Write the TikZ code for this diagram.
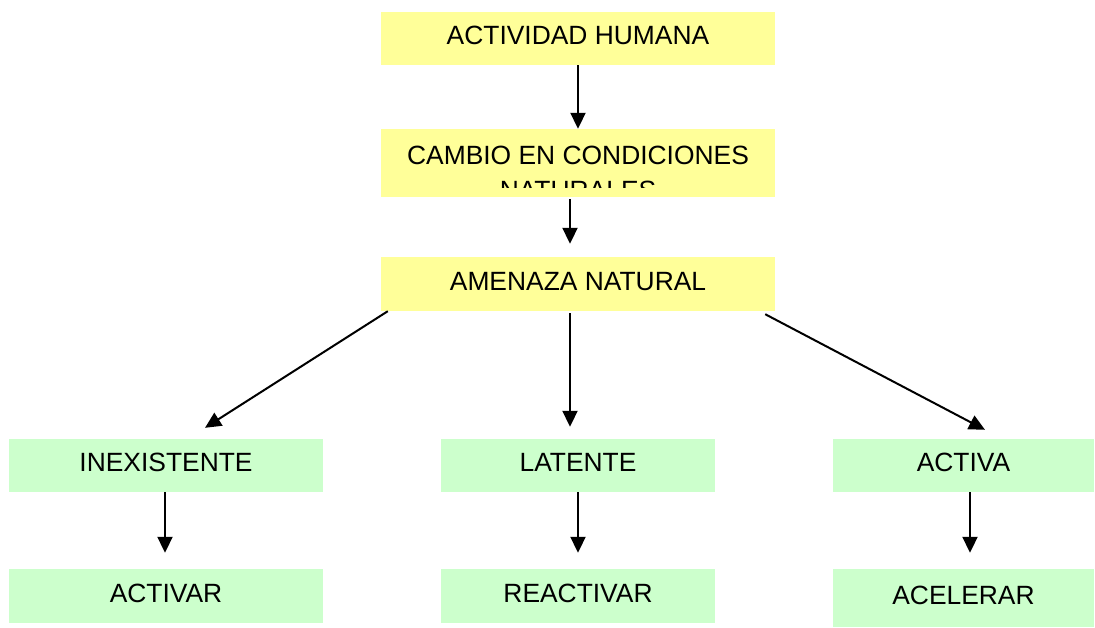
\documentclass[tikz,border=0pt]{standalone}
\usepackage{fontspec}
\setmainfont{Liberation Sans}
\usetikzlibrary{arrows.meta}
\definecolor{boxyellow}{HTML}{FFFF99}
\definecolor{boxgreen}{HTML}{CCFFCC}
\begin{document}
\begin{tikzpicture}[
  x=1pt, y=-1pt,
  ybox/.style={fill=boxyellow, inner sep=0pt, font=\fontsize{26.4}{35}\selectfont, text depth=6pt},
  gbox/.style={fill=boxgreen, inner sep=0pt, font=\fontsize{26.4}{35}\selectfont, text depth=6pt},
  arrow/.style={-{Triangle[length=16pt,width=15pt]}, line width=2pt}
]
\useasboundingbox (0,0) rectangle (1095,628);
\node[ybox, minimum width=394pt, minimum height=53pt] (act) at (578,38.5) {ACTIVIDAD HUMANA};
\node[ybox, minimum width=394pt, minimum height=68pt] (cambio) at (578,163) {};
\begin{scope}
  \clip (cambio.north west) rectangle ([yshift=10pt]cambio.south east);
  \node[font=\fontsize{26.4}{35}\selectfont, align=center, anchor=north] (cambiotxt) at ([yshift=-14pt]cambio.north) {CAMBIO EN CONDICIONES\\NATURALES};
\end{scope}
\node[ybox, minimum width=394pt, minimum height=54pt] (amenaza) at (578,284) {AMENAZA NATURAL};
\node[gbox, minimum width=314pt, minimum height=53pt] (inex) at (166,465.5) {INEXISTENTE};
\node[gbox, minimum width=274pt, minimum height=53pt] (lat) at (578,465.5) {LATENTE};
\node[gbox, minimum width=261pt, minimum height=53pt] (activa) at (963.5,465.5) {ACTIVA};
\node[gbox, minimum width=314pt, minimum height=54pt] (activar) at (166,596) {ACTIVAR};
\node[gbox, minimum width=274pt, minimum height=54pt] (reac) at (578,596) {REACTIVAR};
\node[gbox, minimum width=261pt, minimum height=58pt] (acel) at (963.5,598) {ACELERAR};

\draw[arrow] (act) -- (cambio);
\draw[arrow, shorten <=2pt, shorten >=13pt] ([xshift=-8pt]cambio.south) -- ([xshift=-8pt]amenaza.north);
\draw[arrow] ([xshift=7pt]amenaza.south west) -- ([xshift=39pt,yshift=11pt]inex.north);
\draw[arrow, shorten <=2pt, shorten >=12pt] ([xshift=-8pt]amenaza.south) -- ([xshift=-8pt]lat.north);
\draw[arrow] ([xshift=-10pt,yshift=-3pt]amenaza.south east) -- ([xshift=21.5pt,yshift=9pt]activa.north);
\draw[arrow, shorten >=16pt] ([xshift=-1pt]inex.south) -- ([xshift=-1pt]activar.north);
\draw[arrow, shorten >=16pt] (lat) -- (reac);
\draw[arrow, shorten >=16pt] ([xshift=6.5pt]activa.south) -- ([xshift=6.5pt]acel.north);
\end{tikzpicture}
\end{document}
